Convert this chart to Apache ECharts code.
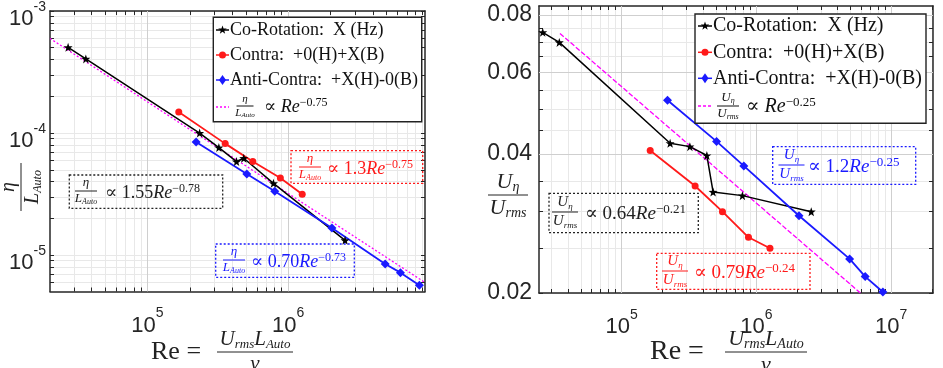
<!DOCTYPE html>
<html lang="en">
<head>
<meta charset="UTF-8">
<title>Re scaling</title>
<script src="https://cdn.jsdelivr.net/npm/echarts@6/dist/echarts.min.js"></script>
<style>
  html, body { margin: 0; padding: 0; background: #fff; }
  #main { width: 943px; height: 368px; }
</style>
</head>
<body>
<div id="main"></div>
<script>
// left panel: eta / L_Auto against Re
const leftCoRe = [2.73e4, 3.65e4, 2.35e5, 3.22e5, 4.30e5, 4.84e5, 7.87e5, 2.54e6];
const leftCoVal = [5.04e-4, 4.05e-4, 1.0e-4, 7.6e-5, 5.84e-5, 6.22e-5, 3.87e-5, 1.32e-5];
const leftContraRe = [1.67e5, 3.57e5, 5.61e5, 8.81e5, 1.26e6];
const leftContraVal = [1.49e-4, 8.19e-5, 5.84e-5, 4.28e-5, 3.15e-5];
const leftAntiRe = [2.22e5, 5.09e5, 8.04e5, 2.05e6, 4.9e6, 6.29e6, 8.57e6];
const leftAntiVal = [8.45e-5, 4.61e-5, 3.33e-5, 1.67e-5, 8.45e-6, 7.18e-6, 5.66e-6];
const leftFitRe = [2.03e4, 9.4e6];
const leftFitVal = [5.96e-4, 5.96e-6];

// right panel: U_eta / U_rms against Re
const rightCoRe = [2.6e4, 3.45e4, 2.29e5, 3.21e5, 4.29e5, 4.77e5, 7.87e5, 2.55e6];
const rightCoVal = [0.0734, 0.0698, 0.0422, 0.0415, 0.0397, 0.0331, 0.0325, 0.0300];
const rightContraRe = [1.63e5, 3.51e5, 5.6e5, 8.73e5, 1.26e6];
const rightContraVal = [0.0407, 0.0341, 0.0300, 0.0264, 0.0250];
const rightAntiRe = [2.19e5, 5.06e5, 8.06e5, 2.07e6, 4.91e6, 6.41e6, 8.67e6];
const rightAntiVal = [0.0523, 0.0426, 0.0377, 0.0294, 0.0237, 0.0217, 0.0201];
const rightFitRe = [3.49e4, 5.9e6];
const rightFitVal = [0.073, 0.02];

// tick labels
const leftXLabels = [1e5, 1e6];
const leftYLabels = [1e-5, 1e-4, 1e-3];
const rightXLabels = [1e5, 1e6, 1e7];
const rightYLabels = [0.02, 0.04, 0.06, 0.08];
const rightYMinor = [0.025, 0.03, 0.035, 0.045, 0.05, 0.055, 0.065, 0.07, 0.075];

const SERIF = '"Liberation Serif", "DejaVu Serif", serif';
const SANS = '"Liberation Sans", Arial, sans-serif';
const INK = '#262626';
const RED = '#ff1a1a';
const BLUE = '#1a1aff';
const MAG = '#ff00ff';
const STAR = 'path://M0,-10L2.35,-3.24L9.51,-3.09L3.8,1.24L5.88,8.09L0,4L-5.88,8.09L-3.8,1.24L-9.51,-3.09L-2.35,-3.24Z';
const STAR_PTS = [[0,-10],[2.35,-3.24],[9.51,-3.09],[3.8,1.24],[5.88,8.09],[0,4],[-5.88,8.09],[-3.8,1.24],[-9.51,-3.09],[-2.35,-3.24]];

// minor log ticks 1..9 x 10^n inside [lo, hi]
function logTicks(lo, hi) {
    const out = [];
    for (let e = Math.floor(Math.log10(lo)); e <= Math.ceil(Math.log10(hi)); e++) {
        for (let m = 1; m < 10; m++) {
            const v = m * Math.pow(10, e);
            if (v >= lo && v <= hi) out.push(v);
        }
    }
    return out;
}
function pairs(xs, ys) { return xs.map((x, i) => [x, ys[i]]); }

const L = { xmin: 2.03e4, xmax: 9.4e6, ymin: 5.03e-6, ymax: 1.0004e-3 };
const R = { xmin: 2.44e4, xmax: 2.04e7, ymin: 0.019995, ymax: 0.0837 };

const tickRich = {
    b: { fontFamily: SANS, fontSize: 22, lineHeight: 30, verticalAlign: 'bottom', color: INK },
    s: { fontFamily: SANS, fontSize: 14, lineHeight: 30, verticalAlign: 'top', color: INK }
};
const powLabel = v => '{b|10}{s|' + Math.round(Math.log10(v)) + '}';

function frame(extra) {
    return Object.assign({
        axisLine: { show: true, onZero: false, lineStyle: { color: INK, width: 1.5 } },
        axisTick: { show: true, inside: true, length: 4, lineStyle: { color: INK, width: 1 } },
        axisPointer: { show: false }
    }, extra);
}
function axisPair(kind, grid, min, max, labels, ticks, labelOpt) {
    const pos = kind === 'x' ? ['bottom', 'top'] : ['left', 'right'];
    const a = frame({
        type: 'log', gridIndex: grid, min, max, position: pos[0],
        axisLabel: Object.assign({ customValues: labels, color: INK, rich: tickRich }, labelOpt),
        splitLine: { show: true, lineStyle: { color: '#e8e8e8', width: 1 } }
    });
    a.axisTick.customValues = ticks;
    const b = frame({
        type: 'log', gridIndex: grid, min, max, position: pos[1],
        axisLabel: { show: false }, splitLine: { show: false }
    });
    b.axisTick.customValues = ticks;
    return [a, b];
}

function dataSeries(xi, yi, data, color, symbol, size, width) {
    return {
        type: 'line', xAxisIndex: xi, yAxisIndex: yi, data, symbol, symbolSize: size,
        showAllSymbol: true, lineStyle: { color, width }, itemStyle: { color },
        z: 3, silent: true
    };
}
function fitSeries(xi, yi, data, dash, gridX, gridY) {
    return {
        type: 'line', xAxisIndex: xi, yAxisIndex: yi, data, symbol: 'none',
        lineStyle: { color: MAG, width: 1.3, type: dash }, z: 2, silent: true,
        markLine: {
            silent: true, symbol: ['none', 'none'], z: 1, animation: false,
            label: { show: false }, lineStyle: { color: '#cfcfcf', type: 'solid', width: 1 },
            data: gridX.map(v => ({ xAxis: v })).concat(gridY.map(v => ({ yAxis: v })))
        }
    };
}

// ---- graphic text helpers (math-like labels) ----
function richSet(s) {
    const lh = Math.round(s * 1.1);
    return {
        r: { fontFamily: SERIF, fontSize: s, lineHeight: lh },
        i: { fontFamily: SERIF, fontStyle: 'italic', fontSize: s, lineHeight: lh },
        sb: { fontFamily: SERIF, fontStyle: 'italic', fontSize: Math.round(s * 0.62), lineHeight: lh, verticalAlign: 'bottom' },
        sp: { fontFamily: SERIF, fontSize: Math.round(s * 0.66), lineHeight: lh, verticalAlign: 'top' }
    };
}
function txt(x, y, text, color, size, align, va) {
    return {
        type: 'text', x, y, z: 110, silent: true,
        style: { text, fill: color, fontFamily: SERIF, fontSize: size, rich: richSet(size),
                 align: align || 'left', verticalAlign: va || 'middle',
                 textAlign: align || 'left', textVerticalAlign: va || 'middle' }
    };
}
function frac(cx, cy, num, den, color, size, w) {
    return [
        txt(cx, cy - 1, num, color, size, 'center', 'bottom'),
        { type: 'line', z: 110, silent: true, shape: { x1: cx - w / 2, y1: cy, x2: cx + w / 2, y2: cy },
          style: { stroke: color, lineWidth: 1 } },
        txt(cx, cy + 1, den, color, size, 'center', 'top')
    ];
}
function box(x, y, w, h, color, dotted) {
    return { type: 'rect', z: 105, silent: true, shape: { x, y, width: w, height: h },
             style: { fill: dotted ? null : '#fff', stroke: color, lineWidth: dotted ? 1.3 : 1.4,
                      lineDash: dotted ? [2, 2] : null } };
}
function legendRow(x1, x2, y, color, shape, label, size, tx) {
    const cx = (x1 + x2) / 2;
    const els = [{ type: 'line', z: 108, silent: true, shape: { x1, y1: y, x2, y2: y },
                   style: { stroke: color, lineWidth: 1.5 } }];
    if (shape === 'star') els.push({ type: 'polygon', z: 109, silent: true, x: cx, y,
        shape: { points: STAR_PTS.map(p => [p[0] * 0.45, p[1] * 0.45]) }, style: { fill: color } });
    if (shape === 'circle') els.push({ type: 'circle', z: 109, silent: true,
        shape: { cx, cy: y, r: 3.5 }, style: { fill: color } });
    if (shape === 'diamond') els.push({ type: 'polygon', z: 109, silent: true, x: cx, y,
        shape: { points: [[0, -5], [3.5, 0], [0, 5], [-3.5, 0]] }, style: { fill: color } });
    els.push(txt(tx, y, '{r|' + label + '}', '#111', size, 'left', 'middle'));
    return els;
}

const ETA = '{i|η}';
const LAUTO = '{i|L}{sb|Auto}';
const UETA = '{i|U}{sb|η}';
const URMS = '{i|U}{sb|rms}';
const NUMRE = '{i|U}{sb|rms}{i|L}{sb|Auto}';

let g = [];
// left legend
g.push(box(213.3, 17.3, 208.4, 104.4, '#222', false));
g = g.concat(
    legendRow(216, 229, 30, '#000', 'star', 'Co-Rotation:  X (Hz)', 18, 230),
    legendRow(216, 229, 55, RED, 'circle', 'Contra:  +0(H)+X(B)', 18, 230),
    legendRow(216, 229, 80, BLUE, 'diamond', 'Anti-Contra:  +X(H)-0(B)', 18, 230),
    [{ type: 'line', z: 108, silent: true, shape: { x1: 216, y1: 107, x2: 229, y2: 107 },
       style: { stroke: MAG, lineWidth: 1.4, lineDash: [2, 2] } }],
    frac(245, 106, ETA, LAUTO, '#111', 11, 17),
    [txt(264, 107, '{r|∝ }{i|Re}{sp|−0.75}', '#111', 18)]
);
// right legend
g.push(box(695, 14, 231, 109.3, '#222', false));
g = g.concat(
    legendRow(698, 712, 26, '#000', 'star', 'Co-Rotation:  X (Hz)', 20, 713),
    legendRow(698, 712, 52.3, RED, 'circle', 'Contra:  +0(H)+X(B)', 20, 713),
    legendRow(698, 712, 78.3, BLUE, 'diamond', 'Anti-Contra:  +X(H)-0(B)', 20, 713),
    [{ type: 'line', z: 108, silent: true, shape: { x1: 698, y1: 106, x2: 712, y2: 106 },
       style: { stroke: MAG, lineWidth: 1.4, lineDash: [3, 2] } }],
    frac(728, 106, UETA, URMS, '#111', 13, 22),
    [txt(746, 107, '{r|∝ }{i|Re}{sp|−0.25}', '#111', 20)]
);
// fit annotations
function note(bx, color, fcx, fcy, num, den, fs, fw, tx, text, ts) {
    return [box(bx[0], bx[1], bx[2], bx[3], color, true)]
        .concat(frac(fcx, fcy, num, den, color, fs, fw), [txt(tx, fcy + 2, text, color, ts)]);
}
g = g.concat(
    note([69.3, 175, 153.4, 33.3], '#222', 86, 191, ETA, LAUTO, 13, 22, 105, '{r|∝ 1.55}{i|Re}{sp|−0.78}', 18),
    note([291, 150.7, 131.7, 32.6], RED, 310, 167, ETA, LAUTO, 13, 22, 327, '{r|∝ 1.3}{i|Re}{sp|−0.75}', 18),
    note([215.7, 244, 138.6, 33.3], BLUE, 234, 260, ETA, LAUTO, 13, 22, 251, '{r|∝ 0.70}{i|Re}{sp|−0.73}', 18),
    note([772.7, 146.7, 143, 37.6], BLUE, 791.5, 165, UETA, URMS, 15, 26, 808, '{r|∝ 1.2}{i|Re}{sp|−0.25}', 19),
    note([549, 193.3, 149.3, 39.4], '#222', 565, 212, UETA, URMS, 15, 26, 585, '{r|∝ 0.64}{i|Re}{sp|−0.21}', 19),
    note([656.7, 253.3, 153.3, 36], RED, 675, 271, UETA, URMS, 15, 26, 694, '{r|∝ 0.79}{i|Re}{sp|−0.24}', 19)
);
// axis titles
g = g.concat(
    [txt(151, 352, '{r|Re =}', '#222', 26)],
    frac(255, 352, NUMRE, '{i|ν}', '#222', 21, 76),
    [{ type: 'group', x: 21, y: 187, rotation: Math.PI / 2, children: frac(0, 0, ETA, LAUTO, '#222', 20, 48) }],
    [txt(650, 352, '{r|Re =}', '#222', 28)],
    frac(766, 352, NUMRE, '{i|ν}', '#222', 22, 82),
    frac(508, 195, UETA, URMS, '#222', 22, 40)
);

const xAxes = axisPair('x', 0, L.xmin, L.xmax, leftXLabels, logTicks(L.xmin, L.xmax), { formatter: powLabel, margin: 15 })
    .concat(axisPair('x', 1, R.xmin, R.xmax, rightXLabels, logTicks(R.xmin, R.xmax), { formatter: powLabel, margin: 15 }));
const yAxes = axisPair('y', 0, L.ymin, L.ymax, leftYLabels, logTicks(L.ymin, L.ymax), { formatter: powLabel, margin: 4, padding: [8, 0, 0, 0] })
    .concat(axisPair('y', 1, R.ymin, R.ymax, rightYLabels, rightYLabels.concat(rightYMinor),
        { formatter: v => v.toFixed(2), margin: 7, fontFamily: SANS, fontSize: 23, rich: {} }));

const chart = echarts.init(document.getElementById('main'), null, { renderer: 'canvas' });
chart.setOption({
    animation: false,
    backgroundColor: '#fff',
    grid: [
        { left: 50, top: 9.5, width: 375, height: 282 },
        { left: 539, top: 6, width: 394, height: 287 }
    ],
    xAxis: xAxes,
    yAxis: yAxes,
    series: [
        fitSeries(0, 0, pairs(leftFitRe, leftFitVal), [2, 2], leftXLabels, [1e-5, 1e-4]),
        dataSeries(0, 0, pairs(leftCoRe, leftCoVal), '#000', STAR, 9, 1.5),
        dataSeries(0, 0, pairs(leftContraRe, leftContraVal), RED, 'circle', 7, 1.8),
        dataSeries(0, 0, pairs(leftAntiRe, leftAntiVal), BLUE, 'diamond', 9, 1.8),
        fitSeries(2, 2, pairs(rightFitRe, rightFitVal), [5, 2], rightXLabels, [0.04, 0.06, 0.08]),
        dataSeries(2, 2, pairs(rightCoRe, rightCoVal), '#000', STAR, 9, 1.5),
        dataSeries(2, 2, pairs(rightContraRe, rightContraVal), RED, 'circle', 7, 1.8),
        dataSeries(2, 2, pairs(rightAntiRe, rightAntiVal), BLUE, 'diamond', 9, 1.8)
    ],
    graphic: { elements: g }
});
</script>
</body>
</html>
